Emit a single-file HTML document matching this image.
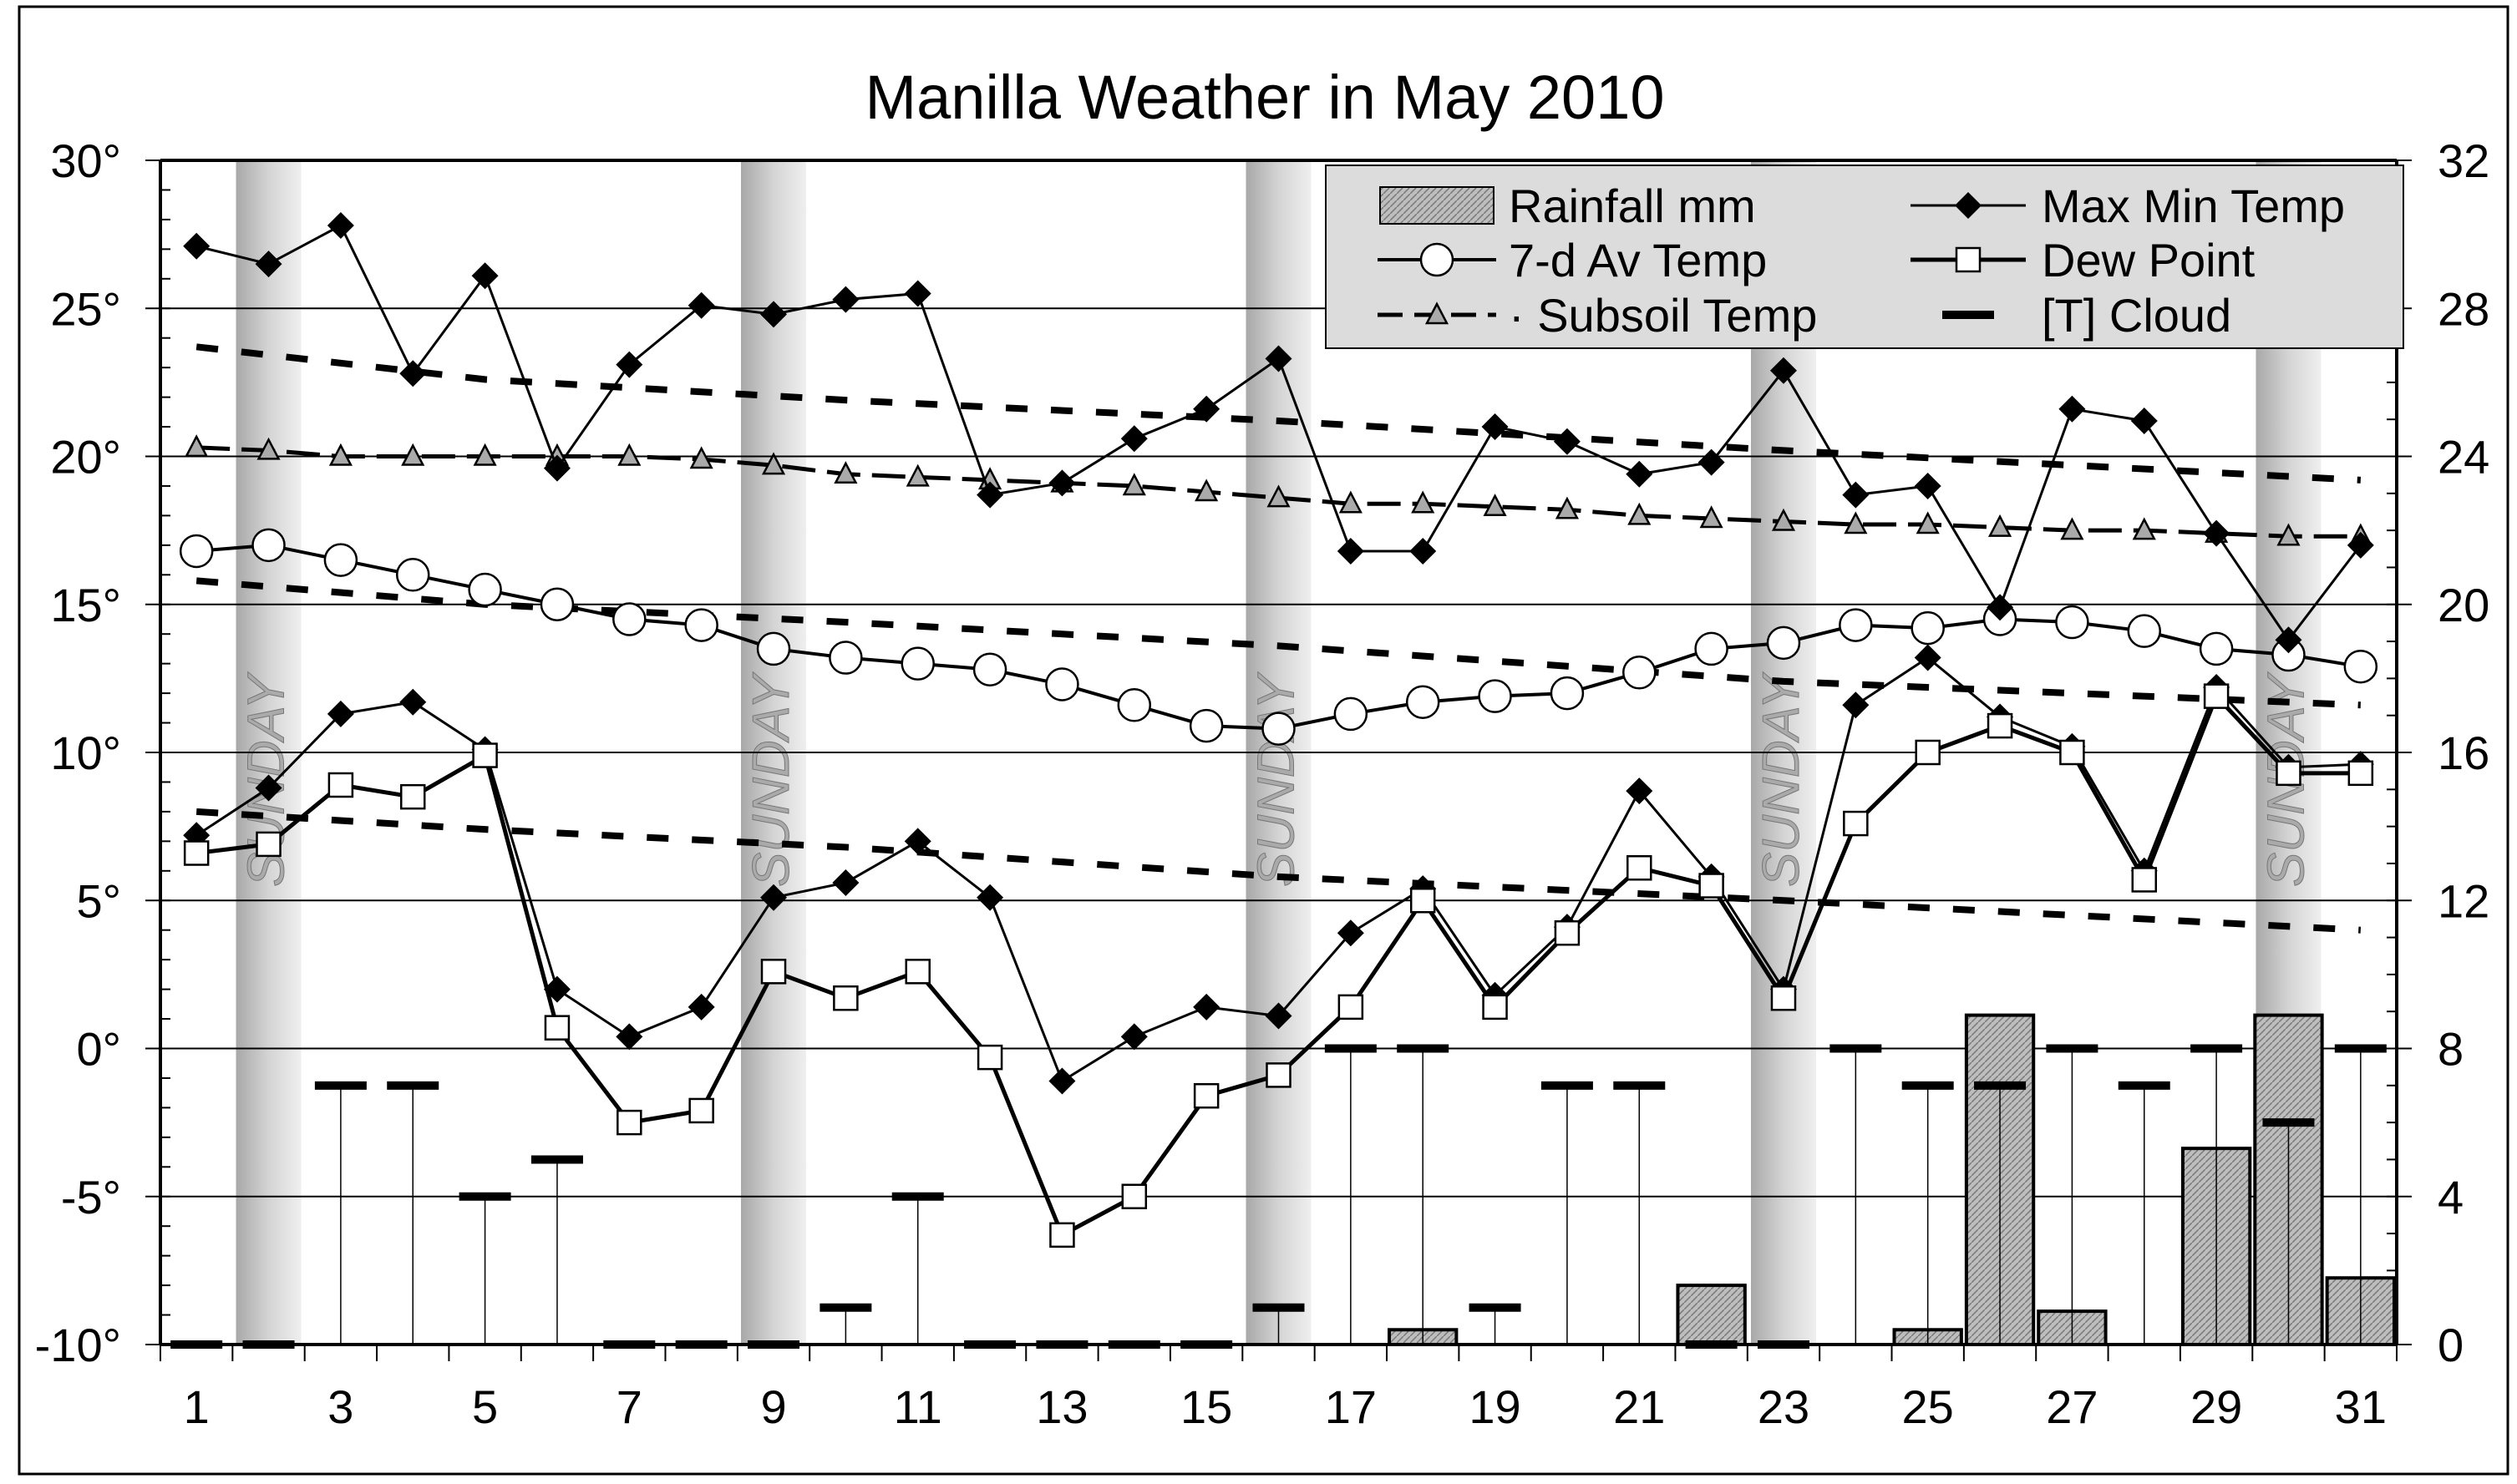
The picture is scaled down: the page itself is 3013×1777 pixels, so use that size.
<!DOCTYPE html>
<html><head><meta charset="utf-8"><style>
html,body{margin:0;padding:0;background:#fff;}
svg{display:block;font-family:"Liberation Sans",Arial,sans-serif;}
</style></head><body>
<svg id="c" width="3013" height="1777" xmlns="http://www.w3.org/2000/svg"></svg>
<script>
const L=192,R=2869,T=192,B=1610,W=(R-L)/31;
const cx=d=>L+(d-0.5)*W;
const yT=t=>T+(30-t)*(B-T)/40;
const yR=r=>B-r*(B-T)/32;
let s='';
s+='<defs><linearGradient id="sg" x1="0" x2="1" y1="0" y2="0"><stop offset="0" stop-color="#a8a8a8"/><stop offset="0.5" stop-color="#d4d4d4"/><stop offset="1" stop-color="#efefef"/></linearGradient>';
s+='<pattern id="hp" width="8" height="8" patternUnits="userSpaceOnUse"><rect width="8" height="8" fill="#bdbdbd"/><path d="M0,8 L8,0" stroke="#777" stroke-width="1.5"/></pattern></defs>';
s+='<rect x="23" y="8" width="2979" height="1757" fill="#fff" stroke="#000" stroke-width="3"/>';
s+='<text x="1514" y="142" font-size="74" text-anchor="middle">Manilla Weather in May 2010</text>';
[2,9,16,23,30].forEach(d=>{s+=`<rect x="${cx(d)-39}" y="${T}" width="78" height="${B-T}" fill="url(#sg)"/>`;
 s+=`<text transform="translate(${cx(d)+18},1062) rotate(-90)" font-size="62" font-style="italic" fill="#aaa" stroke="#777" stroke-width="1">SUNDAY</text>`;});
for(let t=-5;t<=25;t+=5){s+=`<line x1="${L}" x2="${R}" y1="${yT(t)}" y2="${yT(t)}" stroke="#000" stroke-width="2"/>`;}
for(let t=-10;t<=30;t++){s+=`<line x1="${L}" x2="${L+12}" y1="${yT(t)}" y2="${yT(t)}" stroke="#000" stroke-width="2"/>`;}
for(let r=0;r<=32;r++){s+=`<line x1="${R-12}" x2="${R}" y1="${yR(r)}" y2="${yR(r)}" stroke="#000" stroke-width="2"/>`;}
for(let t=-10;t<=30;t+=5){s+=`<line x1="${L-18}" x2="${L}" y1="${yT(t)}" y2="${yT(t)}" stroke="#000" stroke-width="2"/>`;
 s+=`<text x="145" y="${yT(t)+20}" font-size="56" text-anchor="end">${t}°</text>`;}
for(let r=0;r<=32;r+=4){s+=`<line x1="${R}" x2="${R+18}" y1="${yR(r)}" y2="${yR(r)}" stroke="#000" stroke-width="2"/>`;
 s+=`<text x="2918" y="${yR(r)+20}" font-size="56">${r}</text>`;}
for(let d=0;d<=31;d++){s+=`<line x1="${L+d*W}" x2="${L+d*W}" y1="${B}" y2="${B+20}" stroke="#000" stroke-width="2"/>`;}
for(let d=1;d<=31;d+=2){s+=`<text x="${cx(d)}" y="${1704}" font-size="56" text-anchor="middle">${d}</text>`;}
const rain={18:0.4,22:1.6,25:0.4,26:8.9,27:0.9,29:5.3,30:8.9,31:1.8};
for(const d in rain){const x=L+(d-1)*W+3;s+=`<rect x="${x}" y="${yR(rain[d])}" width="${W-6}" height="${B-yR(rain[d])}" fill="url(#hp)" stroke="#000" stroke-width="4"/>`;}
const cl=[0,0,7,7,4,5,0,0,0,1,4,0,0,0,0,1,8,8,1,7,7,0,0,8,7,7,8,7,8,6,8];
cl.forEach((c,i)=>{const d=i+1;if(c>0)s+=`<line x1="${cx(d)}" x2="${cx(d)}" y1="${B}" y2="${yR(c)}" stroke="#000" stroke-width="1.5"/>`;
 s+=`<line x1="${cx(d)-31}" x2="${cx(d)+31}" y1="${yR(c)}" y2="${yR(c)}" stroke="#000" stroke-width="10"/>`;});
function interp(pts){return pts.map(p=>`${cx(p[0])},${yT(p[1])}`).join(' ');}
[[[1,23.7],[5,22.6],[10,21.9],[16,21.2],[23,20.2],[31,19.2]],
 [[1,15.8],[5,15.0],[10,14.4],[16,13.6],[23,12.4],[31,11.6]],
 [[1,8.0],[5,7.4],[10,6.8],[16,5.8],[23,5.0],[31,4.0]]].forEach(p=>{
 s+=`<polyline points="${interp(p)}" fill="none" stroke="#000" stroke-width="8" stroke-dasharray="26,28"/>`;});
function line(v,w,dash){return `<polyline points="${v.map((t,i)=>cx(i+1)+','+yT(t)).join(' ')}" fill="none" stroke="#000" stroke-width="${w}" ${dash?'stroke-dasharray="'+dash+'"':''}/>`;}
const sub=[20.3,20.2,20.0,20.0,20.0,20.0,20.0,19.9,19.7,19.4,19.3,19.2,19.1,19.0,18.8,18.6,18.4,18.4,18.3,18.2,18.0,17.9,17.8,17.7,17.7,17.6,17.5,17.5,17.4,17.3,17.3];
const av=[16.8,17.0,16.5,16.0,15.5,15.0,14.5,14.3,13.5,13.2,13.0,12.8,12.3,11.6,10.9,10.8,11.3,11.7,11.9,12.0,12.7,13.5,13.7,14.3,14.2,14.5,14.4,14.1,13.5,13.3,12.9];
const mx=[27.1,26.5,27.8,22.8,26.1,19.6,23.1,25.1,24.8,25.3,25.5,18.7,19.1,20.6,21.6,23.3,16.8,16.8,21.0,20.5,19.4,19.8,22.9,18.7,19.0,14.9,21.6,21.2,17.4,13.8,17.0];
const mn=[7.2,8.8,11.3,11.7,10.1,2.0,0.4,1.4,5.1,5.6,7.0,5.1,-1.1,0.4,1.4,1.1,3.9,5.4,1.8,4.1,8.7,5.8,2.0,11.6,13.2,11.2,10.2,6.0,12.2,9.5,9.6];
const dp=[6.6,6.9,8.9,8.5,9.9,0.7,-2.5,-2.1,2.6,1.7,2.6,-0.3,-6.3,-5.0,-1.6,-0.9,1.4,5.0,1.4,3.9,6.1,5.5,1.7,7.6,10.0,10.9,10.0,5.7,11.9,9.3,9.3];
s+=line(sub,5,'40,14');
sub.forEach((t,i)=>{const x=cx(i+1),y=yT(t);s+=`<polygon points="${x},${y-13} ${x+12},${y+10} ${x-12},${y+10}" fill="#aaa" stroke="#000" stroke-width="2.5"/>`;});
s+=line(av,4);
av.forEach((t,i)=>{s+=`<circle cx="${cx(i+1)}" cy="${yT(t)}" r="19" fill="#fff" stroke="#000" stroke-width="2.5"/>`;});
s+=line(mx,3);s+=line(mn,3);
[mx,mn].forEach(a=>a.forEach((t,i)=>{const x=cx(i+1),y=yT(t);s+=`<polygon points="${x},${y-16} ${x+16},${y} ${x},${y+16} ${x-16},${y}" fill="#000"/>`;}));
s+=line(dp,5);
dp.forEach((t,i)=>{s+=`<rect x="${cx(i+1)-14}" y="${yT(t)-14}" width="28" height="28" fill="#fff" stroke="#000" stroke-width="2.5"/>`;});
s+=`<line x1="${L}" x2="${L}" y1="${T}" y2="${B}" stroke="#000" stroke-width="4"/>`;
s+=`<line x1="${R}" x2="${R}" y1="${T}" y2="${B}" stroke="#000" stroke-width="4"/>`;
s+=`<line x1="${L}" x2="${R}" y1="${T}" y2="${T}" stroke="#000" stroke-width="4"/>`;
s+=`<line x1="${L}" x2="${R}" y1="${B}" y2="${B}" stroke="#000" stroke-width="4"/>`;
s+='<rect x="1587" y="198" width="1290" height="219" fill="#dcdcdc" stroke="#000" stroke-width="2"/>';
const r1=246,r2=311,r3=377;
s+=`<rect x="1652" y="${r1-22}" width="136" height="44" fill="url(#hp)" stroke="#000" stroke-width="2"/>`;
s+=`<text x="1806" y="${r1+20}" font-size="56">Rainfall mm</text>`;
s+=`<line x1="1649" x2="1791" y1="${r2}" y2="${r2}" stroke="#000" stroke-width="4"/><circle cx="1720" cy="${r2}" r="19" fill="#fff" stroke="#000" stroke-width="2.5"/>`;
s+=`<text x="1806" y="${r2+20}" font-size="56">7-d Av Temp</text>`;
s+=`<line x1="1649" x2="1791" y1="${r3}" y2="${r3}" stroke="#000" stroke-width="5" stroke-dasharray="30,14"/><polygon points="1720,${r3-13} 1732,${r3+10} 1708,${r3+10}" fill="#aaa" stroke="#000" stroke-width="2.5"/>`;
s+=`<text x="1806" y="${r3+20}" font-size="56">· Subsoil Temp</text>`;
s+=`<line x1="2287" x2="2425" y1="${r1}" y2="${r1}" stroke="#000" stroke-width="3"/><polygon points="2356,${r1-16} 2372,${r1} 2356,${r1+16} 2340,${r1}" fill="#000"/>`;
s+=`<text x="2444" y="${r1+20}" font-size="56">Max Min Temp</text>`;
s+=`<line x1="2287" x2="2425" y1="${r2}" y2="${r2}" stroke="#000" stroke-width="5"/><rect x="2342" y="${r2-14}" width="28" height="28" fill="#fff" stroke="#000" stroke-width="2.5"/>`;
s+=`<text x="2444" y="${r2+20}" font-size="56">Dew Point</text>`;
s+=`<line x1="2325" x2="2387" y1="${r3}" y2="${r3}" stroke="#000" stroke-width="10"/>`;
s+=`<text x="2444" y="${r3+20}" font-size="56">[T] Cloud</text>`;
document.getElementById('c').innerHTML=s;
</script>
</body></html>
